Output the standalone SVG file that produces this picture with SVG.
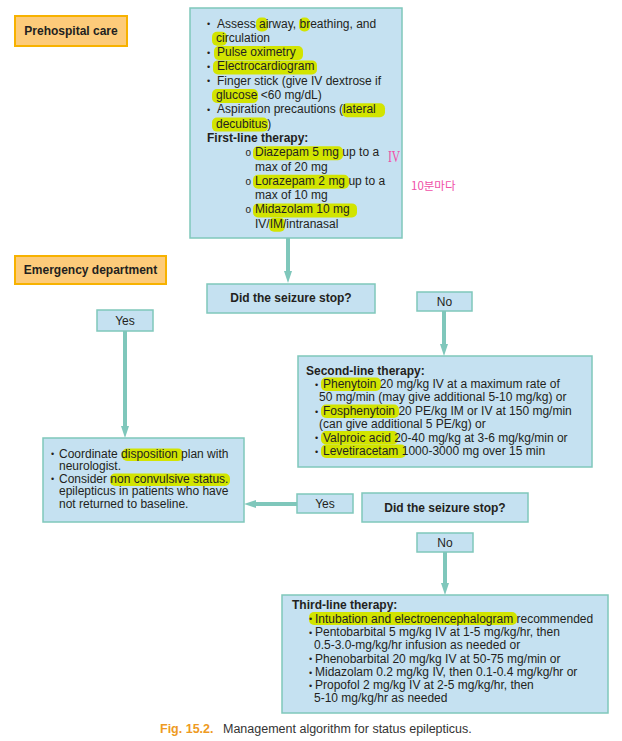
<svg xmlns="http://www.w3.org/2000/svg" width="622" height="741" viewBox="0 0 622 741">
<style>
text{font-family:"Liberation Sans",Arial,sans-serif;font-size:12px;fill:#231f20}
.b{font-weight:bold}
.c{text-anchor:middle}
.bul{font-size:9px}
.o{font-size:10px}
.box{fill:#c5e1f1;stroke:#7fc7bb;stroke-width:1.5}
.lab{fill:#fdcb7a;stroke:#f7b200;stroke-width:2}
.hl{fill:#d2e400}
.con{stroke:#7fc7bb;stroke-width:4;fill:none}
.pink{fill:#f04fa8}
</style>
<defs>
<marker id="ah" markerUnits="userSpaceOnUse" markerWidth="12" markerHeight="8" refX="0" refY="4" orient="auto"><path d="M0,0 L12,4 L0,8 z" fill="#7fc7bb"/></marker>
</defs>

<g id="connectors">
<line class="con" x1="288" y1="238" x2="288" y2="271" marker-end="url(#ah)"/>
<line class="con" x1="444" y1="311" x2="444" y2="344" marker-end="url(#ah)"/>
<line class="con" x1="125" y1="331" x2="125" y2="426" marker-end="url(#ah)"/>
<line class="con" x1="297" y1="504" x2="256" y2="504" marker-end="url(#ah)"/>
<line class="con" x1="445" y1="552" x2="445" y2="583" marker-end="url(#ah)"/>
</g>

<g id="prehospital-label">
<rect class="lab" x="15" y="16" width="112" height="30"/>
<text class="b c" x="71" y="35">Prehospital care</text>
</g>

<g id="first-line">
<rect class="box" x="190" y="8" width="212" height="230"/>
<rect class="hl" x="256" y="17.5" width="12" height="14" rx="5"/>
<rect class="hl" x="299" y="17.5" width="11" height="14" rx="5"/>
<rect class="hl" x="212" y="31.8" width="15" height="14" rx="5"/>
<rect class="hl" x="214" y="46.1" width="89" height="14" rx="5"/>
<rect class="hl" x="213" y="60.4" width="104" height="14" rx="5"/>
<rect class="hl" x="212" y="89" width="46" height="14" rx="5"/>
<rect class="hl" x="342" y="103.3" width="43" height="14" rx="5"/>
<rect class="hl" x="212" y="117.6" width="56" height="14" rx="5"/>
<rect class="hl" x="253" y="146.2" width="90" height="14" rx="5"/>
<rect class="hl" x="253" y="174.8" width="96" height="14" rx="5"/>
<rect class="hl" x="253" y="203.4" width="104" height="14" rx="5"/>
<rect class="hl" x="269" y="217.7" width="16" height="14" rx="5"/>
<text class="bul" x="207" y="27">•</text>
<text x="217" y="27.5">Assess airway, breathing, and</text>
<text x="216" y="41.8">circulation</text>
<text class="bul" x="207" y="55.6">•</text>
<text x="217" y="56.1">Pulse oximetry</text>
<text class="bul" x="207" y="69.9">•</text>
<text x="217" y="70.4">Electrocardiogram</text>
<text class="bul" x="207" y="84.2">•</text>
<text x="217" y="84.7">Finger stick (give IV dextrose if</text>
<text x="216" y="99">glucose &lt;60 mg/dL)</text>
<text class="bul" x="207" y="112.8">•</text>
<text x="217" y="113.3">Aspiration precautions (lateral</text>
<text x="216" y="127.6">decubitus)</text>
<text class="b" x="207" y="141.9">First-line therapy:</text>
<text class="o" x="245.5" y="156">o</text>
<text x="255" y="156.2">Diazepam 5 mg up to a</text>
<text x="255" y="170.5">max of 20 mg</text>
<text class="o" x="245.5" y="184.6">o</text>
<text x="255" y="184.8">Lorazepam 2 mg up to a</text>
<text x="255" y="199.1">max of 10 mg</text>
<text class="o" x="245.5" y="213.2">o</text>
<text x="255" y="213.4">Midazolam 10 mg</text>
<text x="255" y="227.7">IV/IM/intranasal</text>
</g>

<g id="annotations">
<text class="pink" transform="translate(388,162) scale(0.72,1)" style="font-family:'Liberation Serif',serif;font-size:16px">IV</text>
<text class="pink" x="411" y="190" style="font-family:'Noto Sans CJK KR',sans-serif;font-size:11.5px">10분마다</text>
</g>

<g id="emergency-label">
<rect class="lab" x="15" y="256" width="151" height="28"/>
<text class="b c" x="90.5" y="273.5">Emergency department</text>
</g>

<g id="decision-1">
<rect class="box" x="207" y="284" width="168" height="29"/>
<text class="b c" x="291" y="301.5">Did the seizure stop?</text>
</g>

<g id="no-1">
<rect class="box" x="417" y="292" width="55" height="19"/>
<text class="c" x="444.5" y="306">No</text>
</g>

<g id="yes-1">
<rect class="box" x="97" y="310" width="56" height="21"/>
<text class="c" x="125" y="325">Yes</text>
</g>

<g id="second-line">
<rect class="box" x="298" y="356" width="294" height="111"/>
<rect class="hl" x="321" y="377.5" width="60" height="13.5" rx="5"/>
<rect class="hl" x="321" y="404.5" width="78" height="13.5" rx="5"/>
<rect class="hl" x="321" y="431" width="77" height="13.5" rx="5"/>
<rect class="hl" x="321" y="444.5" width="85" height="13.5" rx="5"/>
<text class="b" x="306" y="375">Second-line therapy:</text>
<text class="bul" x="315" y="387.5">•</text>
<text x="323" y="388">Phenytoin 20 mg/kg IV at a maximum rate of</text>
<text x="319" y="401">50 mg/min (may give additional 5-10 mg/kg) or</text>
<text class="bul" x="315" y="414.5">•</text>
<text x="323" y="415">Fosphenytoin 20 PE/kg IM or IV at 150 mg/min</text>
<text x="319" y="428">(can give additional 5 PE/kg) or</text>
<text class="bul" x="315" y="441">•</text>
<text x="323" y="441.5">Valproic acid 20-40 mg/kg at 3-6 mg/kg/min or</text>
<text class="bul" x="315" y="454.5">•</text>
<text x="323" y="455">Levetiracetam 1000-3000 mg over 15 min</text>
</g>

<g id="disposition">
<rect class="box" x="43" y="438" width="201" height="84"/>
<rect class="hl" x="122" y="448.5" width="61" height="12.5" rx="5"/>
<rect class="hl" x="110" y="473.5" width="120" height="12.5" rx="5"/>
<text class="bul" x="51" y="457">•</text>
<text x="59" y="457.5">Coordinate disposition plan with</text>
<text x="59" y="470">neurologist.</text>
<text class="bul" x="51" y="482">•</text>
<text x="59" y="482.5">Consider non convulsive status.</text>
<text x="59" y="495">epilepticus in patients who have</text>
<text x="59" y="508">not returned to baseline.</text>
</g>

<g id="yes-2">
<rect class="box" x="297" y="494" width="56" height="19"/>
<text class="c" x="325" y="508">Yes</text>
</g>

<g id="decision-2">
<rect class="box" x="362" y="493" width="166" height="29"/>
<text class="b c" x="445" y="511.5">Did the seizure stop?</text>
</g>

<g id="no-2">
<rect class="box" x="417" y="533" width="56" height="19"/>
<text class="c" x="445" y="546.5">No</text>
</g>

<g id="third-line">
<rect class="box" x="282" y="595" width="326" height="118"/>
<rect class="hl" x="309" y="612" width="208" height="13" rx="5"/>
<text class="b" x="292" y="609">Third-line therapy:</text>
<text class="bul" x="309" y="622">•</text>
<text x="315" y="622.5">Intubation and electroencephalogram recommended</text>
<text class="bul" x="309" y="635.5">•</text>
<text x="315" y="636">Pentobarbital 5 mg/kg IV at 1-5 mg/kg/hr, then</text>
<text x="314" y="649">0.5-3.0-mg/kg/hr infusion as needed or</text>
<text class="bul" x="309" y="662">•</text>
<text x="315" y="662.5">Phenobarbital 20 mg/kg IV at 50-75 mg/min or</text>
<text class="bul" x="309" y="675.5">•</text>
<text x="315" y="676">Midazolam 0.2 mg/kg IV, then 0.1-0.4 mg/kg/hr or</text>
<text class="bul" x="309" y="688.5">•</text>
<text x="315" y="689">Propofol 2 mg/kg IV at 2-5 mg/kg/hr, then</text>
<text x="314" y="702">5-10 mg/kg/hr as needed</text>
</g>

<g id="caption">
<text x="160" y="733" style="font-size:12.5px"><tspan class="b" fill="#ee9a22" style="fill:#ee9a22">Fig. 15.2.</tspan><tspan x="223" style="fill:#333333">Management algorithm for status epilepticus.</tspan></text>
</g>
</svg>
